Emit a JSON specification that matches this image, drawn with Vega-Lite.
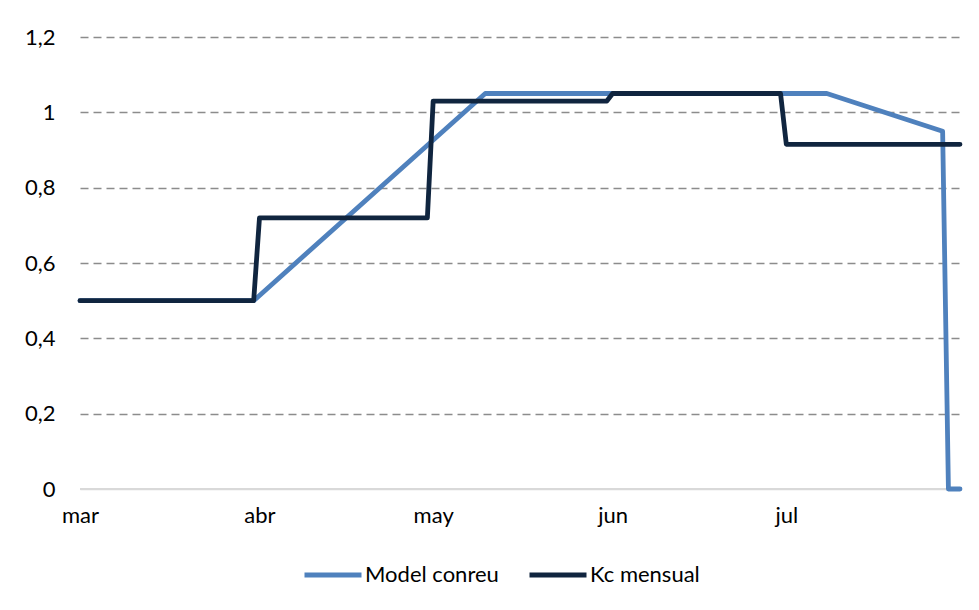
{
  "$schema": "https://vega.github.io/schema/vega-lite/v6.json",
  "width": 880,
  "height": 452,
  "autosize": {"type": "none"},
  "padding": {"left": 80, "top": 37, "right": 19, "bottom": 121},
  "background": "white",
  "config": {
    "view": {"stroke": null},
    "font": "Lato",
    "axis": {"labelFont": "Lato", "labelColor": "#000000"},
    "legend": {"labelFont": "Lato"}
  },
  "data": {
    "values": [
      {"date": "2021-03-01", "kc": 0.5, "serie": "Model conreu"},
      {"date": "2021-03-31", "kc": 0.5, "serie": "Model conreu"},
      {"date": "2021-05-10", "kc": 1.05, "serie": "Model conreu"},
      {"date": "2021-07-08", "kc": 1.05, "serie": "Model conreu"},
      {"date": "2021-07-28", "kc": 0.95, "serie": "Model conreu"},
      {"date": "2021-07-29", "kc": 0, "serie": "Model conreu"},
      {"date": "2021-07-31", "kc": 0, "serie": "Model conreu"},
      {"date": "2021-03-01", "kc": 0.5, "serie": "Kc mensual"},
      {"date": "2021-03-31", "kc": 0.5, "serie": "Kc mensual"},
      {"date": "2021-04-01", "kc": 0.72, "serie": "Kc mensual"},
      {"date": "2021-04-30", "kc": 0.72, "serie": "Kc mensual"},
      {"date": "2021-05-01", "kc": 1.03, "serie": "Kc mensual"},
      {"date": "2021-05-31", "kc": 1.03, "serie": "Kc mensual"},
      {"date": "2021-06-01", "kc": 1.05, "serie": "Kc mensual"},
      {"date": "2021-06-30", "kc": 1.05, "serie": "Kc mensual"},
      {"date": "2021-07-01", "kc": 0.915, "serie": "Kc mensual"},
      {"date": "2021-07-31", "kc": 0.915, "serie": "Kc mensual"}
    ]
  },
  "layer": [
    {
      "mark": {"type": "rule", "color": "#d9d9d9", "strokeWidth": 1.5},
      "encoding": {"y": {"datum": 0, "type": "quantitative"}}
    },
    {
      "mark": {"type": "line", "strokeWidth": 4.8, "strokeCap": "round", "strokeJoin": "round", "interpolate": "linear"},
      "encoding": {
        "x": {
          "field": "date",
          "type": "temporal",
          "scale": {
            "type": "utc",
            "domain": [
              {"year": 2021, "month": 3, "date": 1, "utc": true},
              {"year": 2021, "month": 7, "date": 31, "utc": true}
            ]
          },
          "axis": {
            "title": null,
            "grid": false,
            "domain": false,
            "ticks": false,
            "values": [
              {"year": 2021, "month": 3, "date": 1, "utc": true},
              {"year": 2021, "month": 4, "date": 1, "utc": true},
              {"year": 2021, "month": 5, "date": 1, "utc": true},
              {"year": 2021, "month": 6, "date": 1, "utc": true},
              {"year": 2021, "month": 7, "date": 1, "utc": true}
            ],
            "labelExpr": "['ene','feb','mar','abr','may','jun','jul','ago','sep','oct','nov','dic'][utcmonth(datum.value)]",
            "labelFontSize": 22,
            "labelPadding": 16,
            "labelAlign": "center",
            "labelFlush": false
          }
        },
        "y": {
          "field": "kc",
          "type": "quantitative",
          "scale": {"domain": [0, 1.2], "nice": false, "zero": true},
          "axis": {
            "title": null,
            "values": [0, 0.2, 0.4, 0.6, 0.8, 1, 1.2],
            "labelExpr": "replace(format(datum.value, '~g'), '.', ',')",
            "domain": false,
            "ticks": false,
            "labelFontSize": 22,
            "labelPadding": 25,
            "grid": true,
            "gridColor": {"condition": {"test": "datum.value === 0", "value": "#d9d9d9"}, "value": "#8c8c8c"},
            "gridDash": {"condition": {"test": "datum.value === 0", "value": []}, "value": [8, 5]},
            "gridWidth": 1.5
          }
        },
        "color": {
          "field": "serie",
          "type": "nominal",
          "sort": ["Model conreu", "Kc mensual"],
          "scale": {"domain": ["Model conreu", "Kc mensual"], "range": ["#4f81bd", "#10253f"]},
          "legend": {
            "title": null,
            "orient": "none",
            "direction": "horizontal",
            "legendX": 222,
            "legendY": 507,
            "symbolType": "stroke",
            "symbolSize": 3249,
            "symbolStrokeWidth": 5,
            "labelFontSize": 22,
            "labelOffset": 1,
            "columnPadding": 20,
            "labelColor": "#000000"
          }
        }
      }
    }
  ]
}
